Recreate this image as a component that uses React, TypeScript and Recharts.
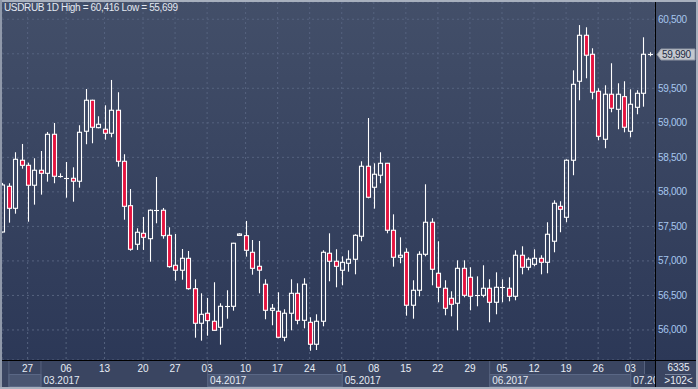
import React from 'react';
import { ComposedChart, Bar, XAxis, YAxis, CartesianGrid, ReferenceLine } from 'recharts';

// daily USDRUB candles
const opens = [
  57419, 58081, 57762, 58458, 58385, 58096, 58313, 58269, 58834, 58226,
  58197, 58197, 58154, 58878, 59327, 58930, 58907, 58849, 59182, 58443,
  57800, 57241, 57400, 57322, 57734, 57734, 57371, 56937, 56865, 57038,
  56598, 56097, 56242, 56126, 56039, 56343, 56343, 57370, 57366, 57125,
  56922, 56662, 56285, 56271, 55894, 56242, 56531, 56140, 56111, 55793,
  56126, 57111, 56995, 56865, 56966, 57024, 57357, 58371, 58067, 58241,
  58414, 57444, 57053, 57125, 56358, 56575, 57096, 57560, 56821, 56604,
  56459, 56387, 56893, 56763, 56495, 56502, 56604, 56401, 56618, 56604,
  56488, 57082, 56908, 56951, 57038, 56980, 57285, 57791, 57632, 58458,
  59602, 60268, 59993, 59457, 58762, 59414, 59196, 59379, 58878, 59225,
  59428, 59990,
];
const highs = [
  58129, 58125, 58574, 58694, 58423, 58487, 58592, 58868, 58998, 58269,
  58433, 58356, 58965, 59490, 59335, 59095, 59254, 59621, 59443, 58545,
  58042, 57473, 57637, 57745, 58216, 57767, 57487, 57390, 57173, 57144,
  56734, 56531, 56463, 56691, 56387, 56575, 57262, 57400, 57579, 57303,
  57289, 56734, 56376, 56546, 56300, 56734, 56676, 56749, 56184, 56227,
  57154, 57400, 57169, 57067, 57154, 57386, 58443, 59070, 58414, 58574,
  58420, 57675, 57342, 57183, 56720, 57140, 58110, 57618, 57285, 56720,
  56560, 57009, 57009, 56908, 56777, 56937, 56734, 56835, 56734, 56763,
  57154, 57212, 57053, 57169, 57082, 57560, 57878, 57864, 58472, 59761,
  60416, 60384, 60080, 59501, 59544, 59863, 59573, 59602, 59486, 59472,
  60239, 60022,
];
const lows = [
  57410, 57554, 57684, 58336, 57568, 57815, 57960, 58148, 58125, 58206,
  57916, 57858, 58061, 58690, 58704, 58921, 58756, 58791, 58365, 57597,
  57148, 57159, 57159, 56989, 57545, 57322, 56902, 56714, 56728, 56584,
  55888, 55845, 55917, 55990, 55787, 56163, 56279, 57366, 57062, 56801,
  56531, 56155, 56068, 55880, 55836, 55995, 56082, 56024, 55699, 55710,
  56053, 56705, 56618, 56647, 56844, 56806, 57285, 57907, 57757, 58125,
  57400, 56917, 56966, 56207, 56163, 56488, 57067, 56647, 56401, 56213,
  56198, 55995, 56473, 56285, 56343, 56473, 56111, 56227, 56401, 56415,
  56430, 56806, 56865, 56922, 56806, 56821, 57125, 57415, 57560, 58241,
  59327, 59645, 59341, 58747, 58632, 59153, 58907, 58863, 58791, 59124,
  59234, 59964,
];
const closes = [
  58100, 57762, 58472, 58385, 58096, 58313, 58269, 58834, 58226, 58230,
  58200, 58154, 58863, 59327, 58936, 58979, 58849, 59182, 58443, 57791,
  57169, 57415, 57342, 57734, 57738, 57366, 56917, 56865, 57038, 56598,
  56097, 56227, 56135, 55995, 56343, 56345, 57256, 57390, 57154, 56893,
  56866, 56285, 56314, 55894, 56242, 56531, 56140, 56662, 55793, 56126,
  57125, 56995, 56922, 56980, 57024, 57371, 58371, 57922, 58255, 58414,
  57444, 57053, 57082, 56358, 56575, 57096, 57560, 56879, 56618, 56314,
  56372, 56893, 56502, 56488, 56510, 56604, 56401, 56618, 56620, 56488,
  57082, 56908, 57024, 57038, 56980, 57386, 57835, 57748, 58458, 59558,
  60268, 59979, 59443, 58805, 59414, 59211, 59414, 58936, 59269, 59428,
  59993, 59990,
];

const dayTicks = [4, 10, 16, 22, 27, 32, 38, 43, 48, 53, 58, 63, 68, 73, 78, 83, 88, 93, 98];
const dayLabels = ['27', '06', '13', '20', '27', '03', '10', '17', '24', '01', '08', '15', '22', '29', '05', '12', '19', '26', '03'];
const monthStarts = [1, 6, 32, 53, 76, 98];
const monthLabels = ['', '03.2017', '04.2017', '05.2017', '06.2017', '07.2017'];
const priceTicks = [56000, 56500, 57000, 57500, 58000, 58500, 59000, 59500, 60000, 60500];
const lastPrice = 59990;
const title = 'USDRUB 1D High = 60,416 Low = 55,699';

const data = opens.map((o, i) => ({
  i,
  open: o,
  high: highs[i],
  low: lows[i],
  close: closes[i],
  range: [lows[i], highs[i]],
}));

const W = 698;
const H = 389;
const X_MIN = 0;
const X_MAX = 101.87;
const Y_MIN = 55565;
const Y_MAX = 60750;
const PLOT_RIGHT = 655;
const PX_PER_IDX = (PLOT_RIGHT - 2) / (X_MAX - X_MIN);
const FONT = '"Liberation Sans", Arial, sans-serif';
const RED = '#e5133f';

const fmt = (v: number) => v.toLocaleString('en-US');

const Candle = (props: any) => {
  const { x, y, width, height, payload } = props;
  const { open, close, high, low } = payload;
  const k = height / (high - low);
  const yOf = (v: number) => y + (high - v) * k;
  const cx = Math.round(x + width / 2) + 0.5;
  const up = close >= open;
  const top = yOf(Math.max(open, close));
  const bot = yOf(Math.min(open, close));
  const body = bot - top;
  return (
    <g>
      <line x1={cx} x2={cx} y1={yOf(high)} y2={top} stroke="#fff" strokeWidth={1.1} />
      <line x1={cx} x2={cx} y1={bot} y2={yOf(low)} stroke="#fff" strokeWidth={1.1} />
      {body < 1.2 ? (
        <line x1={cx - 2.5} x2={cx + 2.5} y1={Math.round(top) + 0.5} y2={Math.round(top) + 0.5} stroke="#fff" strokeWidth={1.1} />
      ) : (
        <rect x={cx - 2} y={top} width={4} height={body} fill={up ? 'none' : RED} stroke="#fff" strokeWidth={1.1} />
      )}
    </g>
  );
};

// the last-price tag hides the tick label next to it
const PriceTick = (props: any) => {
  const { x, y, payload } = props;
  if (Math.abs(payload.value - lastPrice) < 150) return <g />;
  return (
    <text x={x} y={y + 3.5} fill="#a7c7ee" fontSize={10} fontFamily={FONT} letterSpacing={-0.3}>
      {fmt(payload.value)}
    </text>
  );
};

const DayTick = (props: any) => {
  const { x, y, payload } = props;
  const k = dayTicks.indexOf(payload.value);
  return (
    <text x={x} y={y + 12} fill="#e8edf5" fontSize={10} fontFamily={FONT} textAnchor="middle">
      {dayLabels[k]}
    </text>
  );
};

const MonthTick = (props: any) => {
  const { x, y, payload } = props;
  const k = monthStarts.indexOf(payload.value);
  const next = k < monthStarts.length - 1 ? monthStarts[k + 1] : X_MAX;
  const w = (next - payload.value) * PX_PER_IDX;
  const light = k % 2 === 0;
  // last label is cut off by the price panel
  const label = monthLabels[k].slice(0, Math.ceil((PLOT_RIGHT - x) / 5));
  return (
    <g>
      <rect x={x + 0.5} y={y + 1.5} width={w} height={12} fill={light ? '#4a5672' : 'none'} stroke={light ? '#5a6785' : 'none'} />
      <line x1={x + 0.5} x2={x + 0.5} y1={y - 13} y2={y + 14} stroke="#56627e" />
      <text x={x + 3} y={y + 10.5} fill="#e4e9f2" fontSize={10} fontFamily={FONT}>
        {label}
      </text>
    </g>
  );
};

const PriceTag = (props: any) => {
  const vb = props.viewBox || {};
  const tx = (vb.x || 0) + (vb.width || 0) + 2;
  const ty = Math.round(vb.y || 0) + 0.5;
  return (
    <g>
      <polygon
        points={`${tx},${ty} ${tx + 4},${ty - 5.5} ${tx + 38},${ty - 5.5} ${tx + 38},${ty + 5.5} ${tx + 4},${ty + 5.5}`}
        fill="#c4c8cf"
        stroke="#8f96a3"
      />
      <text x={tx + 5} y={ty + 3.5} fill="#1c2a44" fontSize={10} fontFamily={FONT} letterSpacing={-0.3}>
        {fmt(lastPrice)}
      </text>
    </g>
  );
};

const box = (l: number, t: number, w: number, h: number, bg: string, extra: any = {}) => (
  <div style={{ position: 'absolute', left: l, top: t, width: w, height: h, background: bg, ...extra }} />
);

export default function App() {
  return (
    <div style={{ position: 'absolute', left: 0, top: 0, width: W, height: H, overflow: 'hidden', fontFamily: FONT }}>
      {box(0, 0, W, 360, 'linear-gradient(#434f69, #2c3857)')}
      {box(0, 360, W, 29, '#3a4561')}
      <div style={{ position: 'absolute', left: 0, top: 0 }}>
        <ComposedChart width={W} height={H} data={data} margin={{ top: 2, right: 0, bottom: 0, left: 2 }}>
          <CartesianGrid stroke="#56637f" strokeDasharray="2 3" />
          <XAxis
            dataKey="i"
            type="number"
            domain={[X_MIN, X_MAX]}
            allowDataOverflow
            ticks={dayTicks}
            interval={0}
            tick={<DayTick />}
            tickSize={0}
            tickMargin={0}
            tickLine={false}
            axisLine={false}
            height={13}
          />
          <XAxis
            xAxisId="month"
            dataKey="i"
            type="number"
            domain={[X_MIN, X_MAX]}
            allowDataOverflow
            ticks={monthStarts}
            interval={0}
            tick={<MonthTick />}
            tickSize={0}
            tickMargin={0}
            tickLine={false}
            axisLine={false}
            height={16}
          />
          <YAxis
            orientation="right"
            type="number"
            domain={[Y_MIN, Y_MAX]}
            allowDataOverflow
            ticks={priceTicks}
            interval={0}
            tick={<PriceTick />}
            tickSize={3}
            tickMargin={0}
            tickLine={false}
            axisLine={false}
            width={43}
          />
          <Bar dataKey="range" barSize={5} shape={<Candle />} isAnimationActive={false} />
          <ReferenceLine y={lastPrice} stroke="none" label={<PriceTag />} />
        </ComposedChart>
      </div>
      <div style={{ position: 'absolute', left: 4, top: 2, fontSize: 10, lineHeight: '12px', color: '#e3e8f1', letterSpacing: -0.35, whiteSpace: 'nowrap' }}>
        {title}
      </div>
      {box(644, 361, 11, 13, '#2d3853', { borderLeft: '1px solid #56627e', boxSizing: 'border-box' })}
      {box(656, 361, 42, 26, '#3a4561')}
      {box(0, 360, W, 1, '#000')}
      {box(655, 2, 1, 385, '#000')}
      <div style={{ position: 'absolute', left: 660, top: 362, width: 37, textAlign: 'center', fontSize: 10, lineHeight: '11px', color: '#e8edf5' }}>
        6335
      </div>
      {box(665, 374, 26, 1, '#7b87a0')}
      <div style={{ position: 'absolute', left: 660, top: 375, width: 37, textAlign: 'center', fontSize: 10, lineHeight: '11px', color: '#e8edf5' }}>
        {'>102<'}
      </div>
      {box(0, 0, W, 2, '#a8b0be')}
      {box(0, 0, 2, H, '#9099aa')}
      {box(0, 387, W, 2, '#a8b0be')}
      {box(696, 0, 2, H, '#a8b0be')}
    </div>
  );
}
